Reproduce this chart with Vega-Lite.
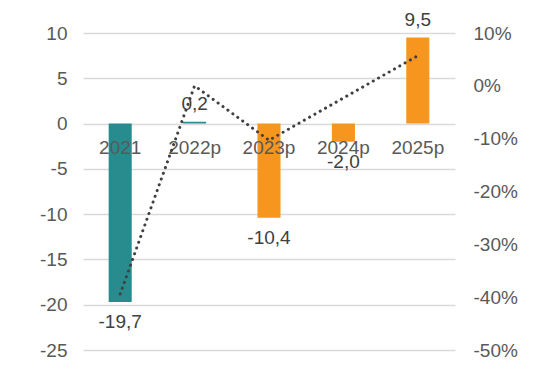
{
  "$schema": "https://vega.github.io/schema/vega-lite/v6.json",
  "width": 372,
  "height": 317,
  "autosize": {"type": "none"},
  "padding": {"left": 83, "top": 33, "right": 84, "bottom": 19},
  "config": {
    "font": "Liberation Sans",
    "view": {"stroke": null},
    "axis": {"labelFont": "Liberation Sans", "labelFontSize": 19, "labelColor": "#595959"}
  },
  "data": {
    "values": [
      {"year": "2021", "value": -19.7, "label": "-19,7", "pct": -39.4, "group": "a"},
      {"year": "2022p", "value": 0.2, "label": "0,2", "pct": 0.0, "group": "a"},
      {"year": "2023p", "value": -10.4, "label": "-10,4", "pct": -10.3, "group": "b"},
      {"year": "2024p", "value": -2.0, "label": "-2,0", "pct": -2.3, "group": "b"},
      {"year": "2025p", "value": 9.5, "label": "9,5", "pct": 5.7, "group": "b"}
    ]
  },
  "encoding": {
    "x": {
      "field": "year", "type": "nominal", "sort": null,
      "scale": {"paddingInner": 0.69, "paddingOuter": 0.345},
      "axis": null
    }
  },
  "layer": [
    {
      "layer": [
        {
          "mark": {"type": "bar"},
          "encoding": {
            "y": {
              "field": "value", "type": "quantitative",
              "scale": {"domain": [-25, 10], "nice": false, "zero": true},
              "axis": {
                "values": [-25, -20, -15, -10, -5, 0, 5, 10],
                "labelExpr": "datum.value",
                "domain": false, "ticks": false, "labelPadding": 16,
                "grid": true, "gridColor": "#d9d9d9", "gridWidth": 1.3,
                "title": null
              }
            },
            "color": {
              "field": "group", "type": "nominal",
              "scale": {"domain": ["a", "b"], "range": ["#288C8E", "#F7961E"]},
              "legend": null
            }
          }
        },
        {
          "transform": [{"filter": "datum.value < 0"}],
          "mark": {"type": "text", "baseline": "middle", "dy": 20, "fontSize": 19, "color": "#404040"},
          "encoding": {
            "y": {"field": "value", "type": "quantitative"},
            "text": {"field": "label"}
          }
        },
        {
          "transform": [{"filter": "datum.value >= 0"}],
          "mark": {"type": "text", "baseline": "middle", "dy": -18, "fontSize": 19, "color": "#404040"},
          "encoding": {
            "y": {"field": "value", "type": "quantitative"},
            "text": {"field": "label"}
          }
        },
        {
          "mark": {"type": "text", "baseline": "middle", "dy": 24, "fontSize": 19, "color": "#595959"},
          "encoding": {
            "y": {"datum": 0, "type": "quantitative"},
            "text": {"field": "year"}
          }
        }
      ]
    },
    {
      "mark": {"type": "line", "color": "#404040", "strokeWidth": 3, "strokeDash": [0.1, 6], "strokeCap": "round"},
      "encoding": {
        "y": {
          "field": "pct", "type": "quantitative",
          "scale": {"domain": [-50, 10], "nice": false},
          "axis": {
            "orient": "right",
            "values": [-50, -40, -30, -20, -10, 0, 10],
            "labelExpr": "datum.value + '%'",
            "domain": false, "ticks": false, "labelPadding": 18,
            "grid": false, "title": null
          }
        }
      }
    }
  ],
  "resolve": {"scale": {"y": "independent"}}
}
